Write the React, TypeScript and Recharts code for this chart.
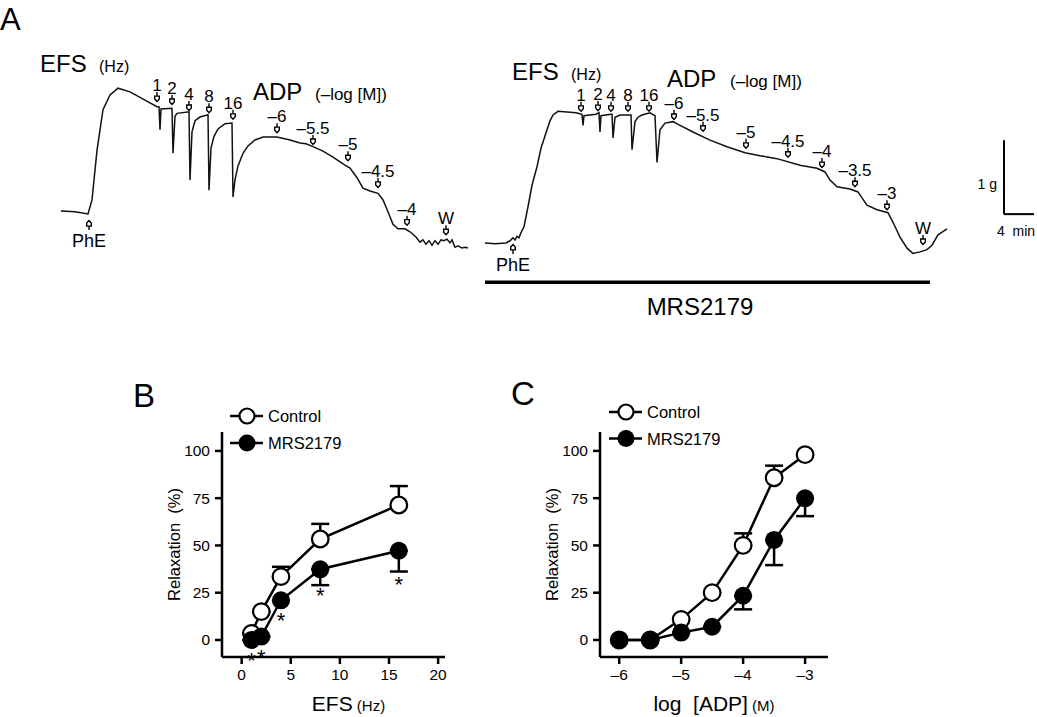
import React from 'react';
import {
  ComposedChart,
  Line,
  Scatter,
  XAxis,
  YAxis,
  ReferenceLine,
  ErrorBar,
  Legend,
  Label,
} from 'recharts';

const FONT = '"Liberation Sans", Arial, Helvetica, sans-serif';

// ---- Panel A: isometric tension traces (time in s, tension in g) ----
const controlTrace: [number, number][] = [
  [0, 0.04], [112, 0.03], [216, 0], [248, 0.19], [288, 0.86], [336, 1.41], [392, 1.61],
  [456, 1.7], [552, 1.65], [672, 1.54], [768, 1.45], [784, 1.45], [792, 1.14], [800, 1.42],
  [888, 1.43], [896, 0.82], [912, 1.32], [928, 1.36], [1024, 1.38], [1032, 0.46], [1048, 1.11],
  [1072, 1.26], [1112, 1.31], [1176, 1.34], [1184, 0.32], [1200, 0.89], [1224, 1.05],
  [1256, 1.15], [1312, 1.22], [1368, 1.23], [1376, 0.23], [1392, 0.46], [1416, 0.65],
  [1456, 0.82], [1496, 0.92], [1552, 1.0], [1616, 1.04], [1728, 1.04], [1832, 1.0],
  [1912, 0.96], [1960, 0.95], [2016, 0.91], [2096, 0.85], [2176, 0.77], [2272, 0.66],
  [2312, 0.62], [2368, 0.49], [2416, 0.35], [2472, 0.31], [2536, 0.28], [2576, 0.19],
  [2616, 0.03], [2656, -0.14], [2696, -0.2], [2752, -0.2], [2792, -0.24], [2840, -0.31],
  [2872, -0.38], [2896, -0.35], [2920, -0.41], [2944, -0.36], [2968, -0.42], [2992, -0.36],
  [3016, -0.41], [3040, -0.35], [3064, -0.36], [3088, -0.34], [3112, -0.39], [3128, -0.35],
  [3152, -0.45], [3176, -0.43], [3208, -0.46], [3232, -0.45], [3256, -0.46],
];

const mrsTrace: [number, number][] = [
  [0, 0], [80, -0.01], [168, 0], [200, 0.03], [224, 0.07], [240, 0.04], [256, 0.09],
  [272, 0.07], [288, 0.14], [312, 0.22], [344, 0.49], [376, 0.78], [416, 1.03], [448, 1.28],
  [488, 1.49], [520, 1.65], [544, 1.73], [584, 1.78], [656, 1.77], [728, 1.76], [776, 1.74],
  [784, 1.59], [792, 1.72], [888, 1.74], [912, 1.76], [920, 1.5], [928, 1.72], [1008, 1.74],
  [1016, 1.74], [1024, 1.42], [1040, 1.7], [1080, 1.73], [1136, 1.73], [1168, 1.73],
  [1176, 1.26], [1200, 1.64], [1224, 1.7], [1256, 1.73], [1320, 1.76], [1360, 1.72],
  [1376, 1.09], [1400, 1.53], [1440, 1.62], [1504, 1.64], [1560, 1.59], [1664, 1.5],
  [1800, 1.39], [1936, 1.3], [2080, 1.22], [2200, 1.18], [2336, 1.14], [2520, 1.05],
  [2656, 1.01], [2720, 0.96], [2760, 0.85], [2816, 0.76], [2920, 0.73], [2984, 0.69],
  [3016, 0.61], [3056, 0.51], [3136, 0.45], [3224, 0.41], [3264, 0.28], [3320, 0.08],
  [3376, -0.07], [3424, -0.14], [3480, -0.12], [3536, -0.09], [3576, -0.03], [3624, 0.11],
  [3696, 0.19],
];

const controlEventLabels = ['PhE', '1', '2', '4', '8', '16', '\u20136', '\u20135.5', '\u20135', '\u20134.5', '\u20134', 'W'];
const controlEventTimes = [224, 768, 888, 1024, 1184, 1376, 1728, 2016, 2296, 2536, 2768, 3080];
const controlEventLevels = [-0.15, 1.58, 1.54, 1.46, 1.43, 1.34, 1.16, 1.0, 0.78, 0.42, -0.09, -0.22];

const mrsEventLabels = ['PhE', '1', '2', '4', '8', '16', '\u20136', '\u20135.5', '\u20135', '\u20134.5', '\u20134', '\u20133.5', '\u20133', 'W'];
const mrsEventTimes = [224, 768, 904, 1008, 1144, 1312, 1512, 1744, 2088, 2424, 2696, 2960, 3216, 3504];
const mrsEventLevels = [-0.08, 1.84, 1.85, 1.84, 1.84, 1.84, 1.73, 1.57, 1.34, 1.22, 1.08, 0.82, 0.51, 0.04];

// scale bar: 4 min, 1 g ; drug application bar
const scaleBarT = [4152, 4392];
const scaleBarG = [0.39, 1.39];
const mrsBarT = [0, 3560];
const mrsBarG = -0.53;

// ---- Panel B: EFS frequency-response ----
const efsHz = [1, 2, 4, 8, 16];
const efsControl = [3.5, 15, 33.5, 53.4, 71.4];
const efsControlSem = [0, 0, 5.2, 8, 10];
const efsMrs = [0, 1.8, 21, 37.4, 47.2];
const efsMrsSem = [0, 0, 0, 8.4, 11];
const efsStarY = [-7.9, -6.2, 13.2, 26.5, 32.1];

// ---- Panel C: ADP concentration-response ----
const logAdp = [-6, -5.5, -5, -4.5, -4, -3.5, -3];
const adpControl = [0, 0, 10.9, 25, 50, 85.8, 98];
const adpControlSem = [0, 0, 0, 0, 6.4, 6.4, 0];
const adpMrs = [0, 0, 3.9, 7, 23.4, 52.9, 74.9];
const adpMrsSem = [0, 0, 0, 0, 7.2, 13.3, 9.4];

const toTrace = (pts: [number, number][]) => pts.map(([t, g]) => ({ t, g }));
const toEvents = (labels: string[], times: number[], levels: number[]) =>
  labels.map((label, i) => ({ t: times[i], g: levels[i], label, up: label === 'PhE' }));

const efsRows = efsHz.map((x, i) => ({
  x,
  control: efsControl[i],
  controlErr: [0, efsControlSem[i]],
  mrs: efsMrs[i],
  mrsErr: [efsMrsSem[i], 0],
}));
const efsStars = efsHz.map((x, i) => ({ x, star: efsStarY[i] }));

const adpRows = logAdp.map((x, i) => ({
  x,
  control: adpControl[i],
  controlErr: [0, adpControlSem[i]],
  mrs: adpMrs[i],
  mrsErr: [adpMrsSem[i], 0],
}));

const EventMark = (props: any) => {
  const { cx, cy, payload } = props;
  if (cx == null || cy == null) return null;
  const up = payload.up;
  const body = up
    ? `M${cx - 2.3},${cy + 1} L${cx + 2.3},${cy + 1} L${cx + 2.3},${cy - 2} L${cx},${cy - 4.5} L${cx - 2.3},${cy - 2} Z`
    : `M${cx - 2.3},${cy - 1} L${cx + 2.3},${cy - 1} L${cx + 2.3},${cy + 2} L${cx},${cy + 4.5} L${cx - 2.3},${cy + 2} Z`;
  const stem = up ? `M${cx},${cy + 1} V${cy + 5}` : `M${cx},${cy - 1} V${cy - 5}`;
  return (
    <g>
      <path d={stem} stroke="#000" strokeWidth={1.4} fill="none" />
      <path d={body} fill="#fff" stroke="#000" strokeWidth={1.4} />
      <text
        x={cx}
        y={up ? cy + 22 : cy - 6}
        textAnchor="middle"
        fontSize={up ? 18 : 17}
        fontFamily={FONT}
        fill="#000"
      >
        {payload.label}
      </text>
    </g>
  );
};

const Star = (props: any) => {
  const { cx, cy } = props;
  if (cx == null || cy == null) return null;
  return (
    <text x={cx} y={cy + 13} textAnchor="middle" fontSize={22} fontFamily={FONT} fill="#000">
      *
    </text>
  );
};

const LegendBox = ({ gap }: { gap: number }) => (
  <svg width={150} height={gap + 20} style={{ overflow: 'visible' }}>
    <line x1={0} y1={9} x2={33} y2={9} stroke="#000" strokeWidth={2.5} />
    <circle cx={17} cy={9} r={7.5} fill="#fff" stroke="#000" strokeWidth={2.2} />
    <text x={38} y={15} fontSize={16.5} fontFamily={FONT} fill="#000">Control</text>
    <line x1={0} y1={9 + gap} x2={33} y2={9 + gap} stroke="#000" strokeWidth={2.5} />
    <circle cx={17} cy={9 + gap} r={8.5} fill="#000" />
    <text x={38} y={15 + gap} fontSize={16.5} fontFamily={FONT} fill="#000">MRS2179</text>
  </svg>
);

const TraceChart = ({
  data,
  events,
  xMax,
  width,
  height,
  margin,
  extra,
}: {
  data: { t: number; g: number }[];
  events: any[];
  xMax: number;
  width: number;
  height: number;
  margin: any;
  extra?: React.ReactNode;
}) => (
  <ComposedChart width={width} height={height} margin={margin}>
    <XAxis dataKey="t" type="number" domain={[0, xMax]} hide />
    <YAxis type="number" domain={[-0.7, 2.2]} hide />
    <Line
      data={data}
      dataKey="g"
      type="linear"
      stroke="#111"
      strokeWidth={1.5}
      dot={false}
      activeDot={false}
      isAnimationActive={false}
    />
    <Scatter data={events} dataKey="g" shape={EventMark} isAnimationActive={false} />
    {extra}
  </ComposedChart>
);

const axisProps = {
  stroke: '#000',
  strokeWidth: 2.5,
  tickSize: 7,
  tickMargin: 5,
  tickLine: { stroke: '#000', strokeWidth: 2.5 },
  tick: { fill: '#000', fontSize: 15.5, fontFamily: FONT },
};

const YTitle = (props: any) => {
  const vb = props.viewBox || {};
  const cx = vb.x + vb.width - 48;
  const cy = vb.y + vb.height / 2;
  return (
    <text
      x={cx}
      y={cy}
      transform={`rotate(-90 ${cx} ${cy})`}
      textAnchor="middle"
      dominantBaseline="central"
      fontSize={16.5}
      fontFamily={FONT}
      fill="#000"
    >
      Relaxation{'\u00a0\u00a0'}(%)
    </text>
  );
};

const makeXTitle = (main: string, unit: string, shift: number) => (props: any) => {
  const vb = props.viewBox || {};
  return (
    <text
      x={vb.x + vb.width / 2 + shift}
      y={vb.y + 54}
      textAnchor="middle"
      fontFamily={FONT}
      fill="#000"
      fontSize={21}
    >
      {main}
      <tspan fontSize={15}>{'\u00a0' + unit}</tspan>
    </text>
  );
};

const DoseChart = ({
  rows,
  stars,
  xDomain,
  xTicks,
  yAxisWidth,
  right,
  xTitle,
  legendLeft,
  legendTop,
  legendGap,
  tickFmt,
}: any) => (
  <ComposedChart width={340} height={350} data={rows} margin={{ top: 62, right, bottom: 0, left: 0 }}>
    <XAxis
      dataKey="x"
      type="number"
      domain={xDomain}
      ticks={xTicks}
      height={63}
      tickFormatter={tickFmt}
      {...axisProps}
    >
      <Label content={xTitle} />
    </XAxis>
    <YAxis
      type="number"
      domain={[-9, 110]}
      ticks={[0, 25, 50, 75, 100]}
      width={yAxisWidth}
      {...axisProps}
    >
      <Label content={YTitle} />
    </YAxis>
    <Line
      dataKey="control"
      stroke="#000"
      strokeWidth={2.5}
      dot={{ r: 8.3, fill: '#fff', stroke: '#000', strokeWidth: 2.2 }}
      activeDot={false}
      isAnimationActive={false}
    >
      <ErrorBar dataKey="controlErr" direction="y" width={9} stroke="#000" strokeWidth={2.5} />
    </Line>
    <Line
      dataKey="mrs"
      stroke="#000"
      strokeWidth={2.5}
      dot={{ r: 9, fill: '#000', stroke: '#000', strokeWidth: 0 }}
      activeDot={false}
      isAnimationActive={false}
    >
      <ErrorBar dataKey="mrsErr" direction="y" width={9} stroke="#000" strokeWidth={2.5} />
    </Line>
    {stars ? <Scatter data={stars} dataKey="star" shape={Star} isAnimationActive={false} /> : null}
    <Legend
      layout="horizontal"
      verticalAlign="middle"
      align="center"
      wrapperStyle={{ left: legendLeft, top: legendTop, width: 150 }}
      content={() => <LegendBox gap={legendGap} />}
    />
  </ComposedChart>
);

const fmtDash = (v: number) => String(v).replace('-', '\u2013');

export default function App() {
  const textStyle = { fontFamily: FONT, fill: '#000' } as const;
  return (
    <div style={{ position: 'absolute', left: 0, top: 0, width: 1037, height: 717, background: '#fff' }}>
      <div style={{ position: 'absolute', left: 0, top: 0 }}>
        <TraceChart
          data={toTrace(controlTrace)}
          events={toEvents(controlEventLabels, controlEventTimes, controlEventLevels)}
          xMax={3280}
          width={480}
          height={300}
          margin={{ top: 51.2, right: 9, bottom: 34.2, left: 61 }}
        />
      </div>
      <div style={{ position: 'absolute', left: 470, top: 0 }}>
        <TraceChart
          data={toTrace(mrsTrace)}
          events={toEvents(mrsEventLabels, mrsEventTimes, mrsEventLevels)}
          xMax={4400}
          width={567}
          height={320}
          margin={{ top: 80.2, right: 2, bottom: 25.2, left: 15 }}
          extra={[
            <ReferenceLine
              key="drug"
              segment={[{ x: mrsBarT[0], y: mrsBarG }, { x: mrsBarT[1], y: mrsBarG }]}
              stroke="#000"
              strokeWidth={3.5}
            />,
            <ReferenceLine
              key="sv"
              segment={[{ x: scaleBarT[0], y: scaleBarG[0] }, { x: scaleBarT[0], y: scaleBarG[1] }]}
              stroke="#000"
              strokeWidth={2}
            />,
            <ReferenceLine
              key="sh"
              segment={[{ x: scaleBarT[0], y: scaleBarG[0] }, { x: scaleBarT[1], y: scaleBarG[0] }]}
              stroke="#000"
              strokeWidth={2}
            />,
          ]}
        />
      </div>
      <div style={{ position: 'absolute', left: 130, top: 370 }}>
        <DoseChart
          rows={efsRows}
          stars={efsStars}
          xDomain={[-2, 20.7]}
          xTicks={[0, 5, 10, 15, 20]}
          yAxisWidth={92}
          right={25}
          xTitle={makeXTitle('EFS', '(Hz)', 15)}
          legendLeft={100}
          legendTop={37}
          legendGap={27}
        />
      </div>
      <div style={{ position: 'absolute', left: 520, top: 370 }}>
        <DoseChart
          rows={adpRows}
          stars={null}
          xDomain={[-6.31, -2.63]}
          xTicks={[-6, -5, -4, -3]}
          yAxisWidth={80}
          right={32}
          xTitle={makeXTitle('log\u00a0\u00a0[ADP]', '(M)', 0)}
          legendLeft={89}
          legendTop={33}
          legendGap={26.5}
          tickFmt={fmtDash}
        />
      </div>
      <svg
        width={1037}
        height={717}
        style={{ position: 'absolute', left: 0, top: 0, pointerEvents: 'none' }}
      >
        <text x={0} y={30} fontSize={31} {...textStyle}>A</text>
        <text x={40} y={72} fontSize={24} {...textStyle}>EFS</text>
        <text x={99} y={72} fontSize={16} {...textStyle}>(Hz)</text>
        <text x={253} y={100} fontSize={24} {...textStyle}>ADP</text>
        <text x={315} y={100} fontSize={17} {...textStyle}>({'\u2013'}log [M])</text>
        <text x={512} y={80} fontSize={24} {...textStyle}>EFS</text>
        <text x={571} y={80} fontSize={16} {...textStyle}>(Hz)</text>
        <text x={667} y={87} fontSize={24} {...textStyle}>ADP</text>
        <text x={730} y={87} fontSize={17} {...textStyle}>({'\u2013'}log [M])</text>
        <text x={700} y={315} fontSize={24} textAnchor="middle" {...textStyle}>MRS2179</text>
        <text x={997} y={189} fontSize={14} textAnchor="end" {...textStyle}>1 g</text>
        <text x={997} y={236} fontSize={14} {...textStyle}>4{'\u00a0\u00a0'}min</text>
        <text x={133} y={407} fontSize={33} {...textStyle}>B</text>
        <text x={511} y={405} fontSize={33} {...textStyle}>C</text>
      </svg>
    </div>
  );
}
